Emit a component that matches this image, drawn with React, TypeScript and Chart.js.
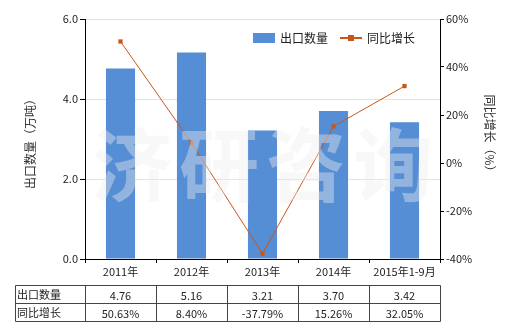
import React, { useEffect, useRef } from "react";
import { Chart, registerables } from "chart.js";

Chart.register(...registerables);

const categories = ["2011年", "2012年", "2013年", "2014年", "2015年1-9月"];
const exportQty = [4.76, 5.16, 3.21, 3.7, 3.42];
const yoyGrowth = [50.63, 8.4, -37.79, 15.26, 32.05];
const seriesNames = ["出口数量", "同比增长"];
const leftTitle = "出口数量（万吨）";
const rightTitle = "同比增长（%）";
const watermark = ["济", "研", "咨", "询"];

const FONT = '"Noto Sans CJK SC", "Noto Sans", sans-serif';
const BAR_COLOR = "#558ED5";
const LINE_COLOR = "#C8561A";
const TEXT_COLOR = "#222";

const overlayPlugin = {
  id: "overlay",
  afterDatasetsDraw(chart: any) {
    const { ctx, chartArea } = chart;
    ctx.save();
    ctx.fillStyle = "rgba(238,238,238,0.4)";
    ctx.font = `bold 80px ${FONT}`;
    ctx.textAlign = "center";
    ctx.textBaseline = "middle";
    const cx = (chartArea.left + chartArea.right) / 2 + 0;
    const cy = 165;
    const step = 87;
    watermark.forEach((ch, i) => {
      ctx.fillText(ch, cx + (i - 1.5) * step, cy);
    });
    ctx.restore();
  },
  afterDraw(chart: any) {
    const { ctx, chartArea, scales } = chart;
    ctx.save();
    // legend
    ctx.font = `12px ${FONT}`;
    ctx.textBaseline = "middle";
    ctx.textAlign = "left";
    ctx.fillStyle = BAR_COLOR;
    ctx.fillRect(253, 33, 22, 10);
    ctx.fillStyle = TEXT_COLOR;
    ctx.fillText(seriesNames[0], 280, 38);
    ctx.strokeStyle = LINE_COLOR;
    ctx.lineWidth = 2;
    ctx.beginPath();
    ctx.moveTo(340, 38);
    ctx.lineTo(362, 38);
    ctx.stroke();
    ctx.fillStyle = LINE_COLOR;
    ctx.fillRect(348, 35, 6, 6);
    ctx.fillStyle = TEXT_COLOR;
    ctx.fillText(seriesNames[1], 367, 38);

    // axis titles
    ctx.textAlign = "center";
    ctx.font = `12px ${FONT}`;
    ctx.fillStyle = "#333";
    ctx.save();
    ctx.translate(30, 141);
    ctx.rotate(-Math.PI / 2);
    ctx.fillText(leftTitle, 0, 0);
    ctx.restore();
    ctx.save();
    ctx.translate(490, 136);
    ctx.rotate(Math.PI / 2);
    ctx.fillText(rightTitle, 0, 0);
    ctx.restore();

    // table
    const x = scales.x;
    const n = categories.length;
    const colW = (chartArea.right - chartArea.left) / n;
    const tLeft = 15.5;
    const rows = [285.5, 303.5, 321.5];
    const cols = [tLeft];
    for (let i = 0; i <= n; i++) cols.push(Math.round(chartArea.left + i * colW) + 0.5);
    ctx.strokeStyle = "#444";
    ctx.lineWidth = 1;
    ctx.beginPath();
    rows.forEach((ry) => {
      ctx.moveTo(tLeft, ry);
      ctx.lineTo(cols[cols.length - 1], ry);
    });
    cols.forEach((cxp) => {
      ctx.moveTo(cxp, rows[0]);
      ctx.lineTo(cxp, rows[rows.length - 1]);
    });
    ctx.stroke();
    ctx.font = `11px ${FONT}`;
    ctx.fillStyle = TEXT_COLOR;
    ctx.textBaseline = "middle";
    ctx.textAlign = "left";
    ctx.fillText(seriesNames[0], 17, (rows[0] + rows[1]) / 2);
    ctx.fillText(seriesNames[1], 17, (rows[1] + rows[2]) / 2);
    ctx.textAlign = "center";
    for (let i = 0; i < n; i++) {
      const px = x.getPixelForValue(i);
      ctx.fillText(exportQty[i].toFixed(2), px, (rows[0] + rows[1]) / 2 + 1);
      ctx.fillText(yoyGrowth[i].toFixed(2) + "%", px, (rows[1] + rows[2]) / 2 + 1);
    }
    ctx.restore();
  },
};

export default function App() {
  const ref = useRef<HTMLCanvasElement>(null);
  useEffect(() => {
    if (!ref.current) return;
    const chart = new Chart(ref.current, {
      type: "bar",
      data: {
        labels: categories,
        datasets: [
          {
            type: "line",
            label: seriesNames[1],
            data: yoyGrowth,
            yAxisID: "y1",
            borderColor: LINE_COLOR,
            backgroundColor: LINE_COLOR,
            borderWidth: 1,
            pointStyle: "rect",
            pointRadius: 3,
            pointBackgroundColor: LINE_COLOR,
            pointBorderWidth: 0,
            order: 0,
          } as any,
          {
            type: "bar",
            label: seriesNames[0],
            data: exportQty,
            yAxisID: "y",
            backgroundColor: BAR_COLOR,
            barPercentage: 0.41,
            categoryPercentage: 1,
            order: 1,
          },
        ],
      },
      options: {
        responsive: false,
        animation: false,
        layout: { padding: { top: 19, left: 0, right: 0, bottom: 0 } },
        plugins: { legend: { display: false }, tooltip: { enabled: false }, title: { display: false } },
        scales: {
          x: {
            offset: true,
            grid: { drawOnChartArea: false, drawTicks: true, tickLength: 4, tickColor: "#000", offset: true },
            border: { color: "#000" },
            ticks: { font: { family: FONT, size: 11 }, color: TEXT_COLOR, padding: 2, maxRotation: 0, autoSkip: false },
            afterFit: (s: any) => {
              s.height = 71;
            },
          },
          y: {
            position: "left",
            min: 0,
            max: 6,
            ticks: {
              stepSize: 2,
              font: { family: FONT, size: 11 },
              color: TEXT_COLOR,
              padding: 2,
              callback: (v: any) => Number(v).toFixed(1),
            },
            grid: { color: "#e3e3e3", tickColor: "#000", tickLength: 5 },
            border: { color: "#000" },
            afterFit: (s: any) => {
              s.width = 85;
            },
          },
          y1: {
            position: "right",
            min: -40,
            max: 60,
            ticks: {
              stepSize: 20,
              font: { family: FONT, size: 11 },
              color: TEXT_COLOR,
              padding: 2,
              callback: (v: any) => v + "%",
            },
            grid: { drawOnChartArea: false, tickColor: "#000", tickLength: 4 },
            border: { color: "#000" },
            afterFit: (s: any) => {
              s.width = 80;
            },
          },
        },
      },
      plugins: [overlayPlugin],
    });
    return () => chart.destroy();
  }, []);
  return (
    <div style={{ position: "fixed", left: 0, top: 0, width: 520, height: 330, background: "#fff" }}>
      <canvas ref={ref} width={520} height={330} />
    </div>
  );
}
